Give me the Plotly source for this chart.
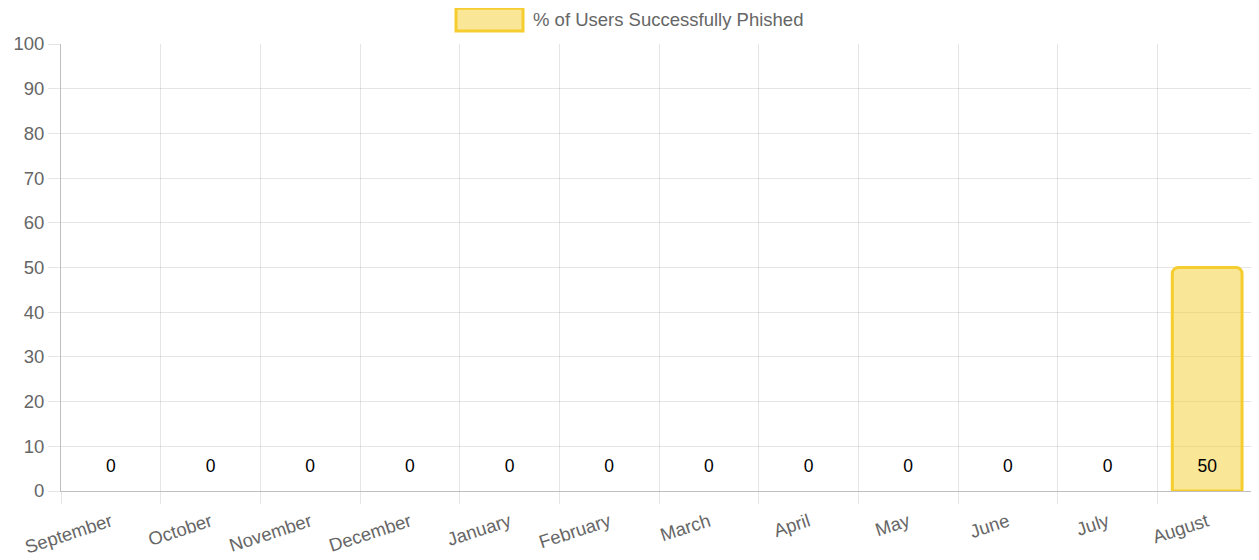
import plotly.graph_objects as go

months = ["September", "October", "November", "December", "January", "February",
          "March", "April", "May", "June", "July", "August"]
phished_pct = [0, 0, 0, 0, 0, 0, 0, 0, 0, 0, 0, 50]
series_name = "% of Users Successfully Phished"
y_ticks = list(range(0, 101, 10))

FONT = "Liberation Sans, Arial, Helvetica, sans-serif"
BORDER = "rgb(245,205,47)"
FILL = "rgba(245,205,47,0.5)"
GRID = "rgba(0,0,0,0.1)"
FS = 18.5

fig = go.Figure()
fig.add_trace(go.Bar(
    x=months, y=phished_pct, name=series_name,
    width=0.7,
    marker=dict(color=FILL,
                line=dict(color=BORDER, width=[3 if v else 0 for v in phished_pct]),
                cornerradius=6),
    hoverinfo="x+y",
    showlegend=False,
))
# data labels, drawn at a fixed height near the bottom of each column
fig.add_trace(go.Scatter(
    x=months, y=[5.2] * len(months), mode="text",
    text=[str(v) for v in phished_pct],
    textfont=dict(family=FONT, size=17.5, color="#000"),
    hoverinfo="skip", showlegend=False,
))

# legend drawn manually (Chart.js-style box)
fig.add_shape(type="rect", xref="paper", yref="paper",
              x0=(456 - 61) / 1196, x1=(523 - 61) / 1196,
              y0=1 + (44 - 31) / 449, y1=1 + (44 - 8) / 449,
              line=dict(color=BORDER, width=3), fillcolor=FILL)
fig.add_annotation(xref="paper", yref="paper",
                   x=(531 - 61) / 1196, y=1 + (44 - 19.5) / 449,
                   xanchor="left", yanchor="middle", showarrow=False,
                   text=series_name,
                   font=dict(family=FONT, size=FS, color="#666"))

# the page body has an 8px margin, so the figure is sized/offset to compensate
fig.update_layout(
    width=1251, height=552,
    margin=dict(l=53, r=2, t=36, b=57),
    paper_bgcolor="white", plot_bgcolor="white",
    font=dict(family=FONT, size=FS, color="#666"),
    bargap=0.3,
)
fig.update_xaxes(
    type="category", tickson="boundaries", tickangle=-18,
    showgrid=True, gridcolor=GRID, gridwidth=1,
    ticks="outside", ticklen=12, tickcolor=GRID,
    ticklabelstandoff=12,
    showline=True, linecolor="rgba(0,0,0,0.25)", linewidth=1,
    tickfont=dict(family=FONT, size=FS, color="#666"),
    range=[-0.5, len(months) - 0.5],
)
fig.update_yaxes(
    range=[0, 100], tickvals=y_ticks,
    showgrid=True, gridcolor=GRID, gridwidth=1,
    ticks="outside", ticklen=12, tickcolor=GRID,
    showline=True, linecolor="rgba(0,0,0,0.25)", linewidth=1,
    zeroline=False,
    tickfont=dict(family=FONT, size=FS, color="#666"),
)

fig.write_html("out.html")
